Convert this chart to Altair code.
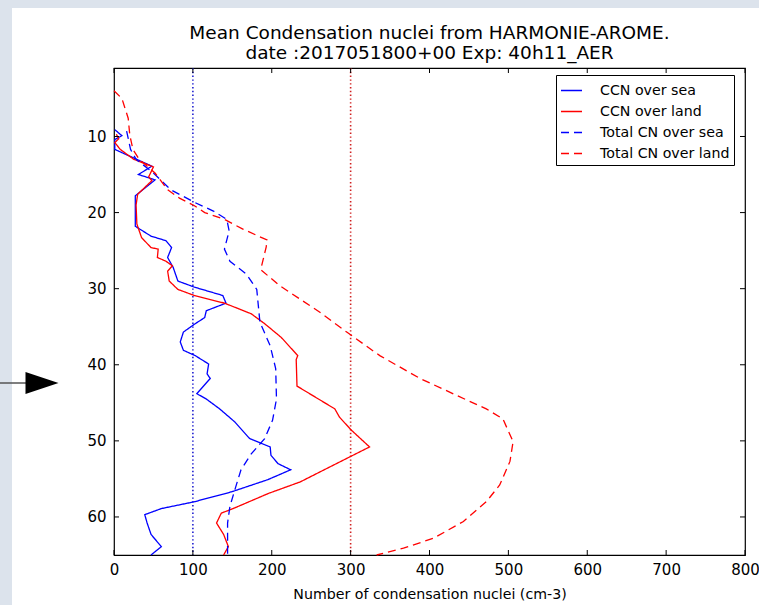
import altair as alt
import pandas as pd

# ---------------- data ----------------
names = ["CCN over sea", "CCN over land", "Total CN over sea", "Total CN over land"]

sea_ccn_level = [9.1, 9.9, 10.4, 11.7, 13.9, 15.0, 15.7, 17.8, 21.8, 23.1, 23.7, 24.6, 25.9,
                 27.2, 29.0, 29.8, 30.9, 31.9, 32.9, 33.8, 34.6, 35.7, 37.0, 38.1, 38.8,
                 39.9, 41.2, 41.8, 43.8, 44.5, 45.8, 47.5, 49.7, 50.8, 51.9, 53.0, 53.8,
                 55.1, 56.7, 58.0, 58.9, 59.7, 60.8, 62.3, 63.9, 65.0]
sea_ccn_value = [1, 10, 1, 1, 48, 31, 52, 27, 27, 47, 66, 73, 68,
                 75, 81, 102, 138, 142, 117, 115, 103, 88, 84, 88, 103,
                 120, 118, 122, 105, 117, 134, 153, 172, 198, 199, 208, 224,
                 195, 149, 102, 60, 39, 42, 47, 60, 47]

land_ccn_level = [9.7, 10.3, 10.8, 11.7, 13.0, 14.0, 15.3, 15.8, 17.6, 19.0, 21.5, 23.3, 24.6,
                  24.8, 25.9, 26.4, 27.0, 27.7, 29.0, 30.1, 30.9, 31.9, 33.3, 34.6, 36.4,
                  38.8, 39.3, 42.8, 45.8, 46.9, 48.6, 50.8, 52.1, 55.4, 56.9, 58.9, 59.5,
                  60.8, 62.3, 63.9, 65.0]
land_ccn_value = [3, 6, 1, 8, 25, 50, 44, 48, 30, 28, 29, 35, 47,
                  56, 55, 66, 74, 68, 70, 81, 102, 140, 174, 191, 212,
                  233, 231, 232, 280, 286, 301, 324, 299, 236, 196, 151, 136,
                  130, 139, 145, 139]

sea_tot_level = [9.3, 11.7, 13.0, 14.8, 17.0, 18.7, 19.8, 20.9, 22.4, 24.8, 26.4, 28.1,
                 30.1, 34.4, 37.5, 40.5, 44.5, 47.3, 49.7, 51.7, 53.8, 56.5, 58.6, 60.8, 65.0]
sea_tot_value = [16, 21, 28, 50, 72, 103, 126, 143, 146, 140, 147, 168,
                 181, 185, 198, 205, 206, 201, 191, 174, 161, 153, 147, 144, 144]

land_tot_level = [4.0, 5.0, 7.6, 9.8, 11.7, 13.0, 14.8, 17.0, 18.1, 19.1, 20.0, 20.9, 22.2,
                  23.6, 24.5, 27.5, 29.6, 33.1, 35.7, 38.8, 41.8, 44.0, 45.8, 47.1, 50.1,
                  52.7, 55.8, 58.0, 60.6, 62.8, 64.1, 65.0]
land_tot_value = [0, 10, 18, 20, 24, 32, 52, 68, 83, 102, 115, 140, 164,
                  194, 193, 186, 210, 261, 295, 337, 388, 434, 472, 493, 506,
                  502, 489, 472, 443, 405, 367, 333]

thresholds = [100, 300]
threshold_colors = ["#2020d0", "#d02020"]

x_ticks = [0, 100, 200, 300, 400, 500, 600, 700, 800]
y_ticks = [10, 20, 30, 40, 50, 60]

title_lines = ["Mean Condensation nuclei from HARMONIE-AROME.",
               "date :2017051800+00 Exp: 40h11_AER"]

# ---------------- table ----------------
rows = []
for name, lv, vals in zip(names,
                          [sea_ccn_level, land_ccn_level, sea_tot_level, land_tot_level],
                          [sea_ccn_value, land_ccn_value, sea_tot_value, land_tot_value]):
    for l, v in zip(lv, vals):
        rows.append({"series": name, "level": l, "value": v})
df = pd.DataFrame(rows)

W, H = 631, 487
FONT = "DejaVu Sans"
BG = "#dce3ec"

xscale = alt.Scale(domain=[0, 800], nice=False, zero=False)
yscale = alt.Scale(domain=[1, 65], reverse=True, nice=False, zero=False)

legend = alt.Legend(title=None, orient="none", legendX=442, legendY=7,
                    symbolType="stroke", symbolSize=441, symbolStrokeWidth=1.3,
                    labelFont=FONT, labelFontSize=14.2, labelColor="black",
                    labelOffset=17, padding=4, rowPadding=2,
                    fillColor="white", strokeColor="black", cornerRadius=0, zindex=2)

lines = alt.Chart(df).mark_line(strokeWidth=1.3).encode(
    x=alt.X("value:Q", scale=xscale,
            axis=alt.Axis(values=x_ticks, title="Number of condensation nuclei (cm-3)",
                          ticks=False, domain=False, grid=False, labelPadding=7,
                          labelFlush=False,
                          labelFont=FONT, labelFontSize=15, labelColor="black",
                          titleFont=FONT, titleFontSize=14.2, titleFontWeight="normal",
                          titleColor="black", titlePadding=10, zindex=1)),
    y=alt.Y("level:Q", scale=yscale,
            axis=alt.Axis(values=y_ticks, title=None, ticks=False, domain=False, grid=False,
                          labelPadding=8, labelFont=FONT, labelFontSize=15,
                          labelColor="black", zindex=1)),
    color=alt.Color("series:N", scale=alt.Scale(domain=names,
                    range=["#0000ff", "#ff0000", "#0000ff", "#ff0000"]), legend=legend),
    strokeDash=alt.StrokeDash("series:N", scale=alt.Scale(domain=names,
                    range=[[1, 0], [1, 0], [8, 5], [8, 5]]), legend=legend),
    order=alt.Order("level:Q"),
)

thr_df = pd.DataFrame({"t": thresholds, "c": threshold_colors})
vlines = alt.Chart(thr_df).mark_rule(strokeWidth=1.6, strokeDash=[1.4, 2.4]).encode(
    x=alt.X("t:Q", scale=xscale),
    stroke=alt.Stroke("c:N", scale=None),
)

xt = pd.DataFrame({"v": x_ticks})
yt = pd.DataFrame({"v": y_ticks})
tick_bottom = alt.Chart(xt).mark_rule(color="black", strokeWidth=1).encode(
    x=alt.X("v:Q", scale=xscale), y=alt.value(H), y2=alt.value(H - 5))
tick_top = alt.Chart(xt).mark_rule(color="black", strokeWidth=1).encode(
    x=alt.X("v:Q", scale=xscale), y=alt.value(0), y2=alt.value(5))
tick_left = alt.Chart(yt).mark_rule(color="black", strokeWidth=1).encode(
    y=alt.Y("v:Q", scale=yscale), x=alt.value(0), x2=alt.value(5))
tick_right = alt.Chart(yt).mark_rule(color="black", strokeWidth=1).encode(
    y=alt.Y("v:Q", scale=yscale), x=alt.value(W), x2=alt.value(W - 5))

one = alt.Data(values=[{"k": 1}])

# title as two text lines centred over the plot
title1 = alt.Chart(one).mark_text(text=title_lines[0], font=FONT, fontSize=18.5, color="black",
                                  align="center", baseline="middle").encode(
    x=alt.value(W / 2), y=alt.value(-35))
title2 = alt.Chart(one).mark_text(text=title_lines[1], font=FONT, fontSize=18.5, color="black",
                                  align="center", baseline="middle").encode(
    x=alt.value(W / 2), y=alt.value(-15))

# decoration: slide background strips and arrow pointing at the chart
strip_top = alt.Chart(one).mark_rect(color=BG).encode(
    x=alt.value(-114), x2=alt.value(W + 14), y=alt.value(-68), y2=alt.value(-60))
strip_left = alt.Chart(one).mark_rect(color=BG).encode(
    x=alt.value(-114), x2=alt.value(-102), y=alt.value(-60), y2=alt.value(H + 50))
arrow_line = alt.Chart(one).mark_rule(color="#555555", strokeWidth=1.5).encode(
    x=alt.value(-114), x2=alt.value(-86), y=alt.value(315))
arrow_head = alt.Chart(one).mark_point(
    shape="M-1,-0.67L1,0L-1,0.67Z", filled=True, color="black", opacity=1, size=1089
).encode(x=alt.value(-72), y=alt.value(315))

chart = alt.layer(
    strip_top, strip_left, arrow_line, arrow_head, vlines, lines,
    tick_bottom, tick_top, tick_left, tick_right, title1, title2,
).properties(
    width=W, height=H,
    autosize=alt.AutoSizeParams(type="none"),
    padding={"left": 114, "top": 68, "right": 14, "bottom": 50},
    background="white",
).configure_view(stroke="black", strokeWidth=1.2, fill=None)

chart.save("out.html", embed_options={"renderer": "svg", "actions": False})
